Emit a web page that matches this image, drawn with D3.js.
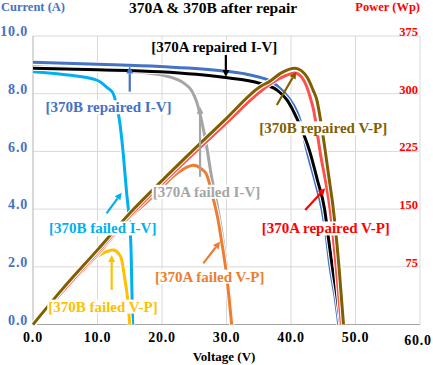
<!DOCTYPE html>
<html>
<head>
<meta charset="utf-8">
<script src="https://cdn.jsdelivr.net/npm/d3@7"></script>
<style>
  body { margin: 0; background: #fff; }
  text { font-family: "Liberation Serif", "Times New Roman", serif; font-weight: bold; }
</style>
</head>
<body>
<svg id="chart" width="433" height="365"></svg>
<script>
// ---- data: [voltage (V), current (A)] ----
const ivARepaired = [[0,8.88],[10,8.83],[19.7,8.76],[29.5,8.57],[35.2,8.36],[37.8,8.13],[39.4,7.78],[41,7.1],[42.9,6.0],[44.1,5.0],[45.2,4.0],[45.8,3.0],[46.4,2.0],[47.1,1.0],[47.7,0]];
const ivBRepaired = [[0,9.09],[10,9.02],[19.7,8.94],[29.5,8.79],[33,8.68],[35,8.58],[36.7,8.45],[38.8,8.08],[40.4,7.6],[41.3,7.15],[42.5,6.0],[43.7,5.0],[44.8,4.0],[45.5,3.0],[46.05,2.0],[46.8,1.0],[47.4,0]];
const ivAFailed = [[0,8.94],[10,8.82],[18.1,8.71],[22.3,8.5],[23.5,8.35],[24.6,8.1],[25.4,7.7],[26.2,7.0],[26.9,6.2],[27.7,5.1],[28.5,4.2],[29.2,3.3],[30.0,2.0],[30.5,1.0],[30.9,0]];
const ivBFailed = [[0,8.76],[5,8.66],[9.9,8.47],[11.6,8.19],[12.4,8.02],[13.0,7.55],[13.4,7.09],[14.0,5.9],[14.5,4.6],[14.9,3.7],[15.2,2.6],[15.45,0]];

// [voltage (V), power (Wp)]
const vpARepaired = [[0,0],[10,94],[15,141],[20,183],[25,223],[30,262],[35,301],[37,314],[39,323],[40.6,327],[41.6,322],[42.4,310],[42.95,296],[43.5,279],[44.5,225],[46.05,150],[47.0,75],[47.8,0]];
const vpBRepaired = [[0,0],[4.45,45],[10,97],[15.04,145],[20,187],[25,228],[30,268],[35.2,309],[36.7,316],[38.5,327],[40.6,333],[41.6,330],[42.6,320],[43.4,305],[44.0,292],[44.6,265],[45.27,228],[45.9,190],[46.56,150],[47.44,75],[48.14,0]];
const vpAFailed = [[0,0],[5,46],[10,91],[15,139],[18,162],[20.2,180],[21.5,191],[23.3,202],[24.9,207],[26.0,203],[26.9,195],[27.9,165],[28.6,140],[29.3,105],[30.0,65],[30.8,0]];
const vpBFailed = [[0,0],[4.2,40],[8,74],[9.1,83],[10.5,91],[11.5,95],[12.45,97],[13.2,93],[13.75,84],[14.26,58],[14.5,45],[14.8,22],[15.0,0]];

const xTicks = [0, 10, 20, 30, 40, 50, 60];
const yTicks = [0, 2, 4, 6, 8, 10];
const pTicks = [75, 150, 225, 300, 375];

const svg = d3.select("#chart");
const x = d3.scaleLinear().domain([0, 60]).range([33, 420]);
const y = d3.scaleLinear().domain([0, 10]).range([324.5, 36]);
const yP = d3.scaleLinear().domain([0, 375]).range([324.5, 36]);

// grid
const grid = svg.append("g");
grid.selectAll(".gx").data(xTicks.slice(1)).join("line")
  .attr("x1", d => x(d)).attr("x2", d => x(d))
  .attr("y1", y(0)).attr("y2", y(10))
  .attr("stroke", "#d9d9d9").attr("stroke-width", 1);
grid.selectAll(".gy").data(yTicks.slice(1)).join("line")
  .attr("x1", x(0)).attr("x2", x(60))
  .attr("y1", d => y(d)).attr("y2", d => y(d))
  .attr("stroke", "#d9d9d9").attr("stroke-width", 1);
// axis lines
svg.append("line").attr("x1", x(0)).attr("x2", x(0)).attr("y1", y(0)).attr("y2", y(10))
  .attr("stroke", "#bfbfbf").attr("stroke-width", 1.2);
svg.append("line").attr("x1", x(0)).attr("x2", x(60)).attr("y1", y(0)).attr("y2", y(0))
  .attr("stroke", "#a6a6a6").attr("stroke-width", 1.2);

// curves
const lineI = d3.line().x(d => x(d[0])).y(d => y(d[1])).curve(d3.curveMonotoneX);
const lineP = d3.line().x(d => x(d[0])).y(d => yP(d[1])).curve(d3.curveMonotoneX);

const series = [
  { data: ivAFailed, gen: lineI, color: "#a5a5a5" },
  { data: ivBFailed, gen: lineI, color: "#00b0f0" },
  { data: ivBRepaired, gen: lineI, color: "#4472c4" },
  { data: ivARepaired, gen: lineI, color: "#000000" },
  { data: vpBFailed, gen: lineP, color: "#ffc000" },
  { data: vpAFailed, gen: lineP, color: "#ed7d31" },
  { data: vpARepaired, gen: lineP, color: "#ff5050" },
  { data: vpBRepaired, gen: lineP, color: "#7f6000" }
];
const curves = svg.append("g").attr("fill", "none");
series.forEach(s => {
  curves.append("path").attr("d", s.gen(s.data))
    .attr("stroke", "#fff").attr("stroke-width", 5).attr("stroke-linejoin", "round");
  curves.append("path").attr("d", s.gen(s.data))
    .attr("stroke", s.color).attr("stroke-width", 3).attr("stroke-linejoin", "round");
});

// tick labels
svg.append("g").selectAll("text").data(yTicks).join("text")
  .attr("x", 28).attr("y", d => y(d) - 3)
  .attr("text-anchor", "end").attr("dominant-baseline", "middle")
  .attr("font-size", 14).attr("letter-spacing", 0.8).attr("fill", "#4472c4")
  .text(d => d.toFixed(1));
svg.append("g").selectAll("text").data(pTicks).join("text")
  .attr("x", 418).attr("y", d => yP(d) - 3)
  .attr("text-anchor", "end").attr("dominant-baseline", "middle")
  .attr("font-size", 12.5).attr("fill", "#ff0000")
  .text(d => d);
svg.append("g").selectAll("text").data(xTicks).join("text")
  .attr("x", d => d === 60 ? x(d) - 2 : x(d)).attr("y", d => d === 60 ? 345 : 342)
  .attr("text-anchor", "middle")
  .attr("font-size", 14).attr("letter-spacing", 0.8).attr("fill", "#000")
  .text(d => d.toFixed(1));

// titles
svg.append("text").attr("x", 213).attr("y", 13).attr("text-anchor", "middle")
  .attr("font-size", 15.5).attr("fill", "#000").text("370A & 370B after repair");
svg.append("text").attr("x", 1).attr("y", 11)
  .attr("font-size", 12.5).attr("fill", "#4472c4").text("Current (A)");
svg.append("text").attr("x", 420).attr("y", 11).attr("text-anchor", "end")
  .attr("font-size", 12.5).attr("fill", "#ff0000").text("Power (Wp)");
svg.append("text").attr("x", 224).attr("y", 361).attr("text-anchor", "middle")
  .attr("font-size", 13).attr("fill", "#000").text("Voltage (V)");

// annotations: label centre and arrow (tail -> head), in data units (V, A)
const notes = [
  { text: "[370A repaired I-V]", color: "#000000", at: [28.1, 9.63], from: [29.9, 9.34], to: [29.9, 8.58] },
  { text: "[370B repaired I-V]", color: "#4472c4", at: [11.7, 7.53], from: [15.0, 8.07], to: [15.0, 8.94] },
  { text: "[370B repaired V-P]", color: "#7f6000", at: [45.0, 6.8], from: [37.8, 7.61], to: [40.8, 8.76] },
  { text: "[370A failed I-V]", color: "#a5a5a5", at: [26.9, 4.6], from: [25.9, 5.12], to: [25.9, 7.55] },
  { text: "[370B failed I-V]", color: "#00b0f0", at: [10.8, 3.33], from: [11.4, 3.85], to: [13.75, 4.57] },
  { text: "[370A repaired V-P]", color: "#ff0000", at: [45.4, 3.33], from: [42.2, 3.97], to: [45.3, 4.72] },
  { text: "[370A failed V-P]", color: "#ed7d31", at: [27.4, 1.66], from: [26.4, 2.12], to: [29.0, 2.87] },
  { text: "[370B failed V-P]", color: "#ffc000", at: [10.85, 0.62], from: [12.2, 1.2], to: [12.2, 2.41] }
];

const ann = svg.append("g");
notes.forEach(n => {
  const t = ann.append("text")
    .attr("x", x(n.at[0])).attr("y", y(n.at[1]))
    .attr("text-anchor", "middle").attr("dominant-baseline", "central")
    .attr("font-size", 15).attr("fill", n.color).text(n.text);
  const b = t.node().getBBox();
  ann.insert("rect", () => t.node())
    .attr("x", b.x - 1).attr("y", b.y + 1).attr("width", b.width + 2).attr("height", b.height - 2)
    .attr("fill", "#fff");

  const x1 = x(n.from[0]), y1 = y(n.from[1]), x2 = x(n.to[0]), y2 = y(n.to[1]);
  const ang = Math.atan2(y2 - y1, x2 - x1);
  const hl = 7, hw = 3.5;
  const bx = x2 - hl * Math.cos(ang), by = y2 - hl * Math.sin(ang);
  ann.append("line").attr("x1", x1).attr("y1", y1).attr("x2", bx).attr("y2", by)
    .attr("stroke", n.color).attr("stroke-width", 2.2);
  const px = -Math.sin(ang) * hw, py = Math.cos(ang) * hw;
  ann.append("path")
    .attr("d", `M${x2},${y2}L${bx + px},${by + py}L${bx - px},${by - py}Z`)
    .attr("fill", n.color);
});
</script>
</body>
</html>
